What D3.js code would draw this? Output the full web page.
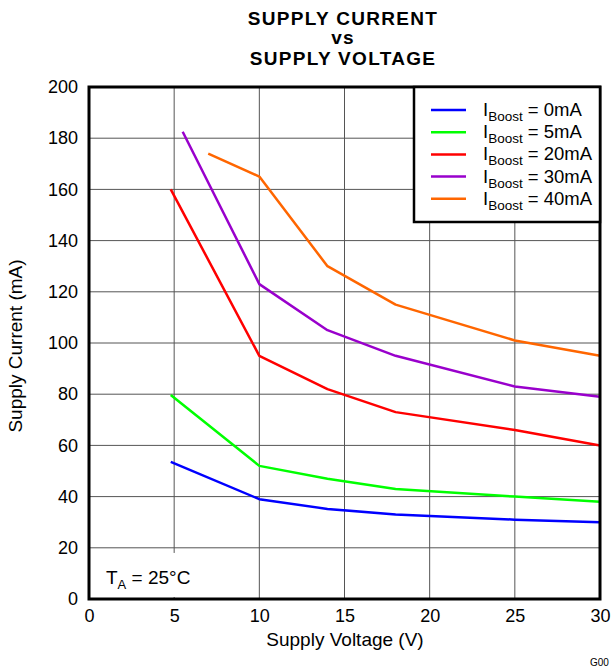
<!DOCTYPE html>
<html>
<head>
<meta charset="utf-8">
<script src="https://cdn.jsdelivr.net/npm/d3@7"></script>
<style>
  body { margin:0; background:#fff; }
  text { font-family: "Liberation Sans", Arial, sans-serif; fill:#000; }
</style>
</head>
<body>
<svg></svg>
<script>
// data
var seriesNames = ["0mA", "5mA", "20mA", "30mA", "40mA"];
var seriesColors = ["#0000ff", "#00ff00", "#ff0000", "#9900cc", "#ff6600"];
var boost0  = [[4.8,53.6],[10,39],[14,35.2],[18,33],[25,31],[30,30]];
var boost5  = [[4.8,79.7],[10,52],[14,47],[18,43],[25,40],[30,38]];
var boost20 = [[4.8,160],[10,95],[14,82],[18,73],[25,66],[30,60]];
var boost30 = [[5.5,182.5],[10,123],[14,105],[18,95],[25,83],[30,79]];
var boost40 = [[7,174],[10,165],[14,130],[18,115],[25,101],[30,95]];
var xTicks = [0,5,10,15,20,25,30];
var yTicks = [0,20,40,60,80,100,120,140,160,180,200];

var drawGraph = function()
{
  var screen = {width:614, height:668};
  var svg = d3.select("svg")
              .attr("width",screen.width)
              .attr("height",screen.height);

  var margins = {top:87, bottom:69, left:89, right:14};
  var width = screen.width - margins.left - margins.right;
  var height = screen.height - margins.top - margins.bottom;

  var xScale = d3.scaleLinear().domain([0,30]).range([0,width]);
  var yScale = d3.scaleLinear().domain([0,200]).range([height,0]);

  // title
  var title = svg.append("g")
                 .attr("font-weight","bold")
                 .attr("font-size","19px")
                 .attr("letter-spacing","1.3px")
                 .attr("text-anchor","middle");
  title.append("text").attr("x",343).attr("y",25).text("SUPPLY CURRENT");
  title.append("text").attr("x",343).attr("y",44).text("vs");
  title.append("text").attr("x",343).attr("y",65).text("SUPPLY VOLTAGE");

  var plot = svg.append("g")
                .attr("transform","translate("+margins.left+","+margins.top+")");

  // grid
  plot.selectAll("line.vgrid")
      .data(xTicks.slice(1,-1))
      .enter()
      .append("line")
      .attr("x1",function(d){return xScale(d)})
      .attr("x2",function(d){return xScale(d)})
      .attr("y1",0).attr("y2",height)
      .attr("stroke","#555").attr("stroke-width",1);
  plot.selectAll("line.hgrid")
      .data(yTicks.slice(1,-1))
      .enter()
      .append("line")
      .attr("y1",function(d){return yScale(d)})
      .attr("y2",function(d){return yScale(d)})
      .attr("x1",0).attr("x2",width)
      .attr("stroke","#555").attr("stroke-width",1);

  // white patch behind the temperature note
  plot.append("rect")
      .attr("x",2).attr("y",yScale(18))
      .attr("width",xScale(9.5)).attr("height",yScale(0)-yScale(18)-2)
      .attr("fill","#fff");

  var allSeries = [boost0, boost5, boost20, boost30, boost40];
  var line = d3.line()
               .x(function(d){return xScale(d[0])})
               .y(function(d){return yScale(d[1])});

  plot.selectAll("path.series")
      .data(allSeries)
      .enter()
      .append("path")
      .attr("d",line)
      .attr("fill","none")
      .attr("stroke",function(d,i){return seriesColors[i]})
      .attr("stroke-width",2.5)
      .attr("stroke-linejoin","round");

  // frame
  plot.append("rect")
      .attr("x",0).attr("y",0)
      .attr("width",width).attr("height",height)
      .attr("fill","none").attr("stroke","#000").attr("stroke-width",3);

  // axes
  var xAxis = d3.axisBottom(xScale).tickValues(xTicks).tickSize(0).tickPadding(10);
  var yAxis = d3.axisLeft(yScale).tickValues(yTicks).tickSize(0).tickPadding(11);

  plot.append("g")
      .attr("transform","translate(0,"+height+")")
      .call(xAxis)
      .call(function(g){g.select(".domain").remove()})
      .selectAll("text").attr("font-size","18px").attr("fill","#000");
  plot.append("g")
      .call(yAxis)
      .call(function(g){g.select(".domain").remove()})
      .selectAll("text").attr("font-size","18px").attr("fill","#000");

  svg.append("text")
     .attr("x",345).attr("y",646)
     .attr("text-anchor","middle").attr("font-size","19px")
     .text("Supply Voltage (V)");
  svg.append("text")
     .attr("transform","translate(22,"+(margins.top+height/2+3)+") rotate(-90)")
     .attr("text-anchor","middle").attr("font-size","19px")
     .text("Supply Current (mA)");

  // temperature note
  var ta = plot.append("text").attr("x",17).attr("y",height-15).attr("font-size","19px");
  ta.append("tspan").text("T");
  ta.append("tspan").attr("font-size","13px").attr("dy",5).text("A");
  ta.append("tspan").attr("dy",-5).text(" = 25°C");

  // legend
  var legend = plot.append("g")
                   .attr("transform","translate("+(width-186)+",0)");
  legend.append("rect")
        .attr("x",0).attr("y",0).attr("width",186).attr("height",135)
        .attr("fill","#fff").attr("stroke","#000").attr("stroke-width",2.5);

  var rows = legend.selectAll("g.row")
                   .data(seriesNames)
                   .enter()
                   .append("g")
                   .attr("transform",function(d,i){return "translate(0,"+(23+i*22.2)+")"});
  rows.append("line")
      .attr("x1",17).attr("x2",52).attr("y1",0).attr("y2",0)
      .attr("stroke",function(d,i){return seriesColors[i]})
      .attr("stroke-width",2.5);
  var lt = rows.append("text").attr("x",69).attr("y",6).attr("font-size","18.5px");
  lt.append("tspan").text("I");
  lt.append("tspan").attr("font-size","13.5px").attr("dy",5).text("Boost");
  lt.append("tspan").attr("dy",-5).text(function(d){return " = "+d});

  svg.append("text")
     .attr("x",590).attr("y",666)
     .attr("font-size","10px")
     .text("G00");
}

drawGraph();
</script>
</body>
</html>
